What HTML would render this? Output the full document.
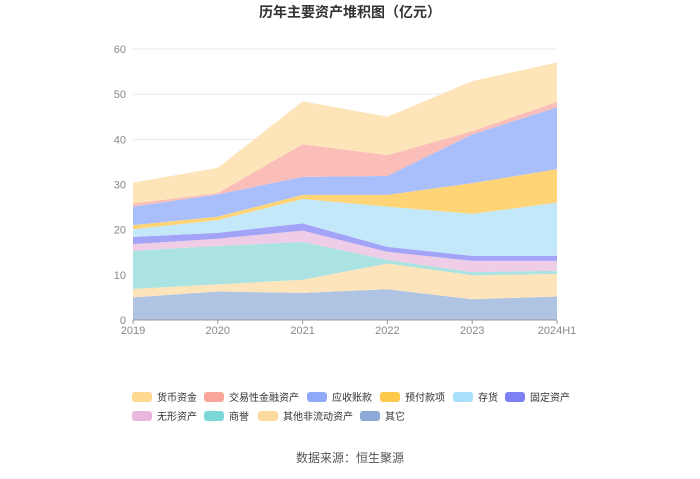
<!DOCTYPE html>
<html><head><meta charset="utf-8"><style>
body{margin:0;background:#fff;width:700px;height:474px;overflow:hidden;font-family:"Liberation Sans","Noto Sans CJK SC",sans-serif}
</style></head><body>
<svg id="c" width="700" height="474" style="font-family:'Liberation Sans','Noto Sans CJK SC',sans-serif">
<text x="350" y="17" text-anchor="middle" font-size="14" font-weight="bold" fill="#333">历年主要资产堆积图（亿元）</text>
<g id="grid"></g><g id="areas"></g><g id="axes"></g><g id="legend"></g>
<text x="350" y="462" text-anchor="middle" font-size="12" fill="#555">数据来源：恒生聚源</text>
</svg>
<script>
const categories=["2019","2020","2021","2022","2023","2024H1"];
const yTicks=[0,10,20,30,40,50,60];
const seriesNames=["其它","其他非流动资产","商誉","无形资产","固定资产","存货","预付款项","应收账款","交易性金融资产","货币资金"];
const sOther=[5.0,6.3,6.0,6.8,4.6,5.2];
const sNonCurrent=[1.9,1.6,2.9,5.7,5.3,5.0];
const sGoodwill=[8.4,8.5,8.4,0.8,0.7,0.7];
const sIntangible=[1.5,1.6,2.5,1.8,2.5,2.2];
const sFixed=[1.6,1.3,1.6,1.1,1.1,1.1];
const sInventory=[1.7,2.8,5.4,8.9,9.3,11.8];
const sPrepay=[0.9,0.8,0.9,2.6,6.8,7.4];
const sReceivable=[4.1,4.9,4.0,4.2,10.8,13.7];
const sTrading=[0.7,0.3,7.2,4.6,0.7,1.2];
const sCash=[4.6,5.6,9.5,8.5,11.1,8.7];
const seriesValues=[sOther,sNonCurrent,sGoodwill,sIntangible,sFixed,sInventory,sPrepay,sReceivable,sTrading,sCash];
const fills=["#afc3e2","#fde4bb","#abe2e2","#efcde6","#a3a4f7","#c3e8fa","#fed477","#a9bffb","#fbbdb7","#fde4b9"];
const legendColors=["#8eaad8","#fdd9a0","#7dd8d8","#e8b8df","#7c80f3","#a8e0fb","#ffc94d","#8eaaf9","#f9a59a","#ffd98f"];
const slugs=["other","other-noncurrent","goodwill","intangible","fixed-assets","inventory","prepayments","receivables","trading-assets","cash"];
const NS="http://www.w3.org/2000/svg";
const x0=133,x1=557,yb=320,yt=49,ymax=60;
const X=i=>x0+i*(x1-x0)/(categories.length-1);
const Y=v=>yb-v/ymax*(yb-yt);
function mk(t,a,p){const e=document.createElementNS(NS,t);for(const k in a)e.setAttribute(k,a[k]);p.appendChild(e);return e;}
const grid=document.getElementById('grid'),axes=document.getElementById('axes'),areas=document.getElementById('areas'),leg=document.getElementById('legend');
yTicks.forEach(v=>{
 const l=mk('line',{x1:x0,x2:x1,y1:Y(v),y2:Y(v),stroke:"#e6e9ef"},grid);
 
 
 const t=mk('text',{x:126,y:Y(v)+4,'text-anchor':'end','font-size':11,fill:'#888'},axes);t.textContent=v;
 
 
});
let cum=categories.map(()=>0);
seriesValues.forEach((s,k)=>{
 const lo=cum.slice();const hi=cum.map((c,i)=>c+s[i]);
 let d=hi.map((v,i)=>(i?'L':'M')+X(i)+','+Y(v)).join('');
 for(let i=lo.length-1;i>=0;i--)d+='L'+X(i)+','+Y(lo[i]);
 const p=mk('path',{d:d+'Z',fill:fills[k]},areas);
 
 
 cum=hi;
});
const ax=mk('line',{x1:x0,x2:x1,y1:yb,y2:yb,stroke:"#999"},axes);


categories.forEach((c,i)=>{
 const tk=mk('line',{x1:X(i),x2:X(i),y1:yb,y2:yb+4,stroke:"#999"},axes);
 
 
 const t=mk('text',{x:X(i),y:334,'text-anchor':'middle','font-size':11,fill:'#888'},axes);t.textContent=c;
 
 
});
const legOrder=[9,8,7,6,5,4,3,2,1,0];
const legPos=[[132,397],[204,397],[307,397],[380,397],[453,397],[505,397],[132,416],[204,416],[258,416],[360,416]];
legOrder.forEach((k,j)=>{
 const [lx,ly]=legPos[j];
 const g=mk('g',{},leg);
 
 
 mk('rect',{x:lx,y:ly-5,width:20,height:10,rx:3,fill:legendColors[k]},g);
 const t=mk('text',{x:lx+25,y:ly+4,'font-size':10,fill:'#333'},g);t.textContent=seriesNames[k];
});
</script>
</body></html>
